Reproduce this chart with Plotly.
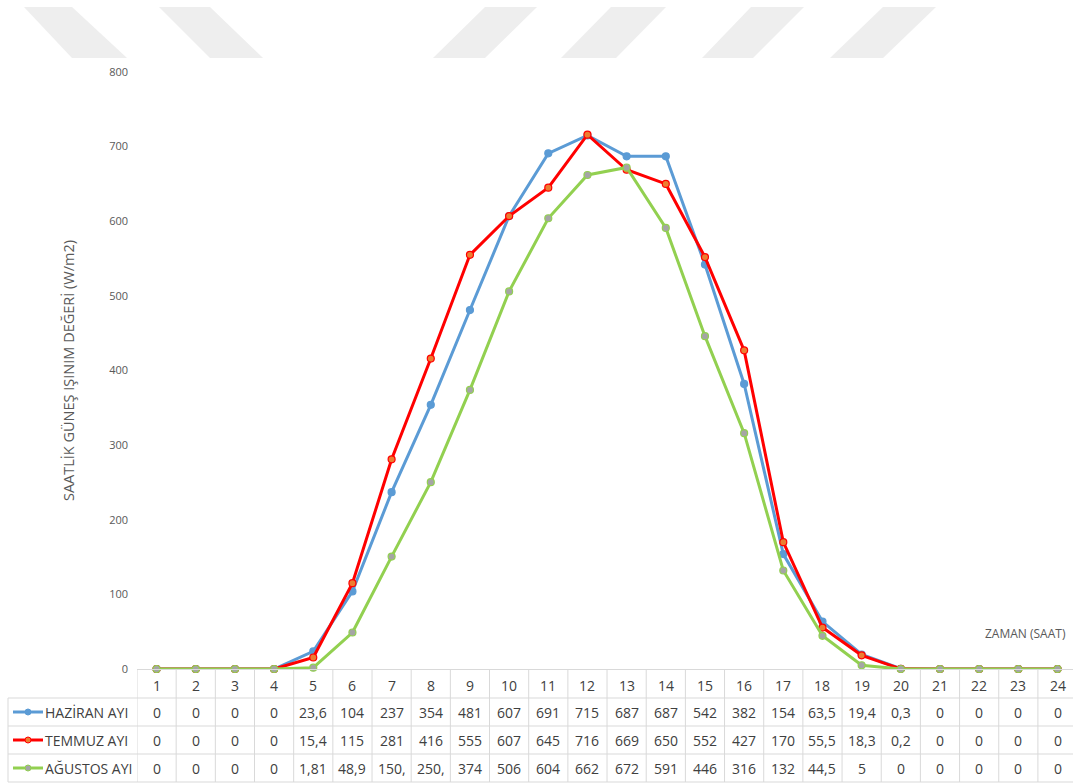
import plotly.graph_objects as go

# Hourly solar irradiance (W/m2) by month
hours = list(range(1, 25))
series_names = ["HAZİRAN AYI", "TEMMUZ AYI", "AĞUSTOS AYI"]
haziran = [0, 0, 0, 0, 23.6, 104, 237, 354, 481, 607, 691, 715,
           687, 687, 542, 382, 154, 63.5, 19.4, 0.3, 0, 0, 0, 0]
temmuz = [0, 0, 0, 0, 15.4, 115, 281, 416, 555, 607, 645, 716,
          669, 650, 552, 427, 170, 55.5, 18.3, 0.2, 0, 0, 0, 0]
agustos = [0, 0, 0, 0, 1.81, 48.9, 150.6, 250.4, 374, 506, 604, 662,
           672, 591, 446, 316, 132, 44.5, 5, 0, 0, 0, 0, 0]
y_ticks = [0, 100, 200, 300, 400, 500, 600, 700, 800]

W, H = 1073, 783
PL, PR, PT, PB = 137, 0, 72, 114          # plot-area margins (px)
PW, PH = W - PL - PR, H - PT - PB
COL = 39.17                               # width of one hour column (px)

line_colors = ["#5B9BD5", "#FF0000", "#92D050"]
marker_fill = ["#5B9BD5", "#ED7D31", "#A5A5A5"]
marker_edge = ["#5B9BD5", "#FF0000", "#92D050"]
values = [haziran, temmuz, agustos]

GRID = "#D9D9D9"
TXT = "#404040"
AX = "#595959"
FONT = "Open Sans"


def px_x(px):
    return (px - PL) / PW


def px_y(py):
    return (H - PB - py) / PH


def cell_text(v):
    s = f"{v:g}".replace(".", ",")
    return s[:4]


fig = go.Figure()
for name, vals, lc, mf, me in zip(series_names, values, line_colors, marker_fill, marker_edge):
    fig.add_trace(go.Scatter(
        x=hours, y=vals, name=name, mode="lines+markers",
        line=dict(color=lc, width=3),
        marker=dict(size=7, color=mf, line=dict(color=me, width=1.2)),
        cliponaxis=False,
    ))

shapes = []
annotations = []

# faint diagonal banner stripes along the top edge
stripes = [
    (24, 72, 72, 127), (159, 210, 210, 263),
    (485, 537, 433, 485), (611, 666, 561, 616),
    (751, 804, 702, 753), (883, 936, 830, 883),
]
for x0, x1, b0, b1 in stripes:
    yt, yb = px_y(7), px_y(58)
    shapes.append(dict(
        type="path", xref="paper", yref="paper",
        path=f"M {px_x(x0)} {yt} L {px_x(x1)} {yt} L {px_x(b1)} {yb} L {px_x(b0)} {yb} Z",
        fillcolor="#EEEEEE", line=dict(width=0), layer="below",
    ))

# data table under the category axis
header_top, row_lines = 670, [698, 726, 754, 782]
row_centers = [712, 740, 768]
left_x = 8

for k in range(len(hours) + 1):
    shapes.append(dict(type="line", xref="x", yref="paper",
                       x0=k + 0.5, x1=k + 0.5, y0=px_y(header_top), y1=px_y(row_lines[-1]),
                       line=dict(color=GRID, width=1)))
for yl in row_lines:
    shapes.append(dict(type="line", xref="paper", yref="paper",
                       x0=px_x(left_x), x1=1.0, y0=px_y(yl), y1=px_y(yl),
                       line=dict(color=GRID, width=1)))
shapes.append(dict(type="line", xref="paper", yref="paper",
                   x0=px_x(left_x), x1=px_x(left_x), y0=px_y(row_lines[0]), y1=px_y(row_lines[-1]),
                   line=dict(color=GRID, width=1)))

for h in hours:
    annotations.append(dict(x=h, y=px_y(685), xref="x", yref="paper", text=str(h),
                            yanchor="middle", showarrow=False,
                            font=dict(family=FONT, size=14, color=TXT)))

for r, (name, vals) in enumerate(zip(series_names, values)):
    yc = px_y(row_centers[r])
    for h, v in zip(hours, vals):
        annotations.append(dict(x=h, y=yc, xref="x", yref="paper", text=cell_text(v),
                                yanchor="middle", showarrow=False,
                                font=dict(family=FONT, size=14, color=TXT)))
    # legend key
    shapes.append(dict(type="line", xref="paper", yref="paper",
                       x0=px_x(13), x1=px_x(43), y0=yc, y1=yc,
                       line=dict(color=line_colors[r], width=3)))
    shapes.append(dict(type="circle", xref="paper", yref="paper",
                       x0=px_x(25), x1=px_x(31), y0=yc - 3 / PH, y1=yc + 3 / PH,
                       fillcolor=marker_fill[r], line=dict(color=marker_edge[r], width=1)))
    annotations.append(dict(x=px_x(43), y=yc, xref="paper", yref="paper", text=name,
                            xanchor="left", yanchor="middle", showarrow=False,
                            font=dict(family=FONT, size=14, color=TXT)))

annotations.append(dict(x=px_x(1068), y=px_y(633), xref="paper", yref="paper",
                        text="ZAMAN (SAAT)", xanchor="right", yanchor="middle", showarrow=False,
                        font=dict(family=FONT, size=12, color=AX)))

fig.update_layout(
    width=W, height=H,
    margin=dict(l=PL, r=PR, t=PT, b=PB),
    paper_bgcolor="white", plot_bgcolor="white",
    showlegend=False,
    shapes=shapes, annotations=annotations,
    xaxis=dict(range=[0.5, 0.5 + PW / COL], showticklabels=False, ticks="",
               showgrid=False, zeroline=False, showline=True, linecolor=GRID, linewidth=1),
    yaxis=dict(range=[0, 800], tickvals=y_ticks, showgrid=False, zeroline=False,
               showline=False, ticks="", ticklabelstandoff=8,
               tickfont=dict(family=FONT, size=11, color=AX),
               title=dict(text="SAATLİK GÜNEŞ IŞINIM DEĞERİ (W/m2)", standoff=31,
                          font=dict(family=FONT, size=14.5, color=AX))),
)

fig.write_html("out.html")
